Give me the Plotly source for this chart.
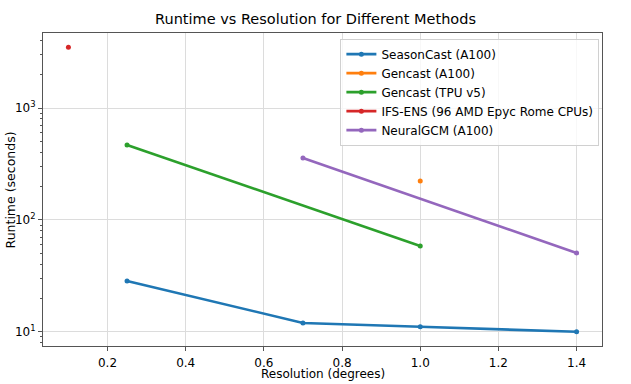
import plotly.graph_objects as go

# Data
seasoncast_res = [0.25, 0.7, 1.0, 1.4]
seasoncast_rt = [28.5, 12.0, 11.1, 10.0]

gencast_a100_res = [1.0]
gencast_a100_rt = [223]

gencast_tpu_res = [0.25, 1.0]
gencast_tpu_rt = [468, 58.6]

ifs_res = [0.1]
ifs_rt = [3510]

neuralgcm_res = [0.7, 1.4]
neuralgcm_rt = [358, 50.7]

x_ticks = [0.2, 0.4, 0.6, 0.8, 1.0, 1.2, 1.4]
x_tick_text = ["0.2", "0.4", "0.6", "0.8", "1.0", "1.2", "1.4"]
y_ticks = [10, 100, 1000]
y_tick_text = ["10<sup>1</sup>", "10<sup>2</sup>", "10<sup>3</sup>"]
y_minor = [m * 10 ** k for k in range(0, 4) for m in range(2, 10)]

series = [
    ("SeasonCast (A100)", seasoncast_res, seasoncast_rt, "#1f77b4"),
    ("Gencast (A100)", gencast_a100_res, gencast_a100_rt, "#ff7f0e"),
    ("Gencast (TPU v5)", gencast_tpu_res, gencast_tpu_rt, "#2ca02c"),
    ("IFS-ENS (96 AMD Epyc Rome CPUs)", ifs_res, ifs_rt, "#d62728"),
    ("NeuralGCM (A100)", neuralgcm_res, neuralgcm_rt, "#9467bd"),
]

fig = go.Figure()
for name, xs, ys, col in series:
    fig.add_trace(go.Scatter(
        x=xs, y=ys, name=name, mode="lines+markers",
        line=dict(color=col, width=2.6),
        marker=dict(color=col, size=5),
    ))

font = "DejaVu Sans, Verdana, sans-serif"
fig.update_layout(
    width=631, height=384,
    margin=dict(l=43, r=29, t=33, b=38),
    paper_bgcolor="white", plot_bgcolor="white",
    font=dict(family=font, size=12, color="black"),
    title=dict(text="Runtime vs Resolution for Different Methods",
               x=0.5, xanchor="center", y=0.965, yanchor="top",
               font=dict(size=14.5, family=font)),
    showlegend=True,
    legend=dict(x=0.532, y=0.982, xanchor="left", yanchor="top",
                bgcolor="rgba(255,255,255,0.8)", bordercolor="#d0d0d0",
                borderwidth=1, font=dict(size=12, family=font),
                tracegroupgap=0, itemwidth=30),
    annotations=[
        dict(text="Resolution (degrees)", xref="paper", yref="paper",
             x=0.5, y=-0.088, xanchor="center", yanchor="middle",
             showarrow=False, font=dict(size=12, family=font)),
        dict(text="Runtime (seconds)", xref="paper", yref="paper",
             x=-0.0573, y=0.5, xanchor="center", yanchor="middle",
             textangle=-90, showarrow=False, font=dict(size=12.5, family=font)),
    ],
)
fig.update_xaxes(
    automargin=False,
    range=[0.035, 1.465], tickvals=x_ticks, ticktext=x_tick_text,
    showgrid=True, gridcolor="#dcdcdc", gridwidth=1,
    showline=True, linecolor="#555", linewidth=1, mirror=True,
    ticks="outside", ticklen=4, tickcolor="#555", zeroline=False,
    ticklabelstandoff=2,
)
fig.update_yaxes(
    automargin=False,
    type="log", range=[0.873, 3.672], tickvals=y_ticks, ticktext=y_tick_text,
    showgrid=True, gridcolor="#dcdcdc", gridwidth=1,
    showline=True, linecolor="#555", linewidth=1, mirror=True,
    ticks="outside", ticklen=4, tickcolor="#555", zeroline=False,
    minor=dict(tickmode="array", tickvals=y_minor, ticks="outside",
               ticklen=2, tickcolor="#555", showgrid=False),
)

fig.write_html("out.html", config={"displayModeBar": False},
               post_script="document.body.style.margin='0';")
